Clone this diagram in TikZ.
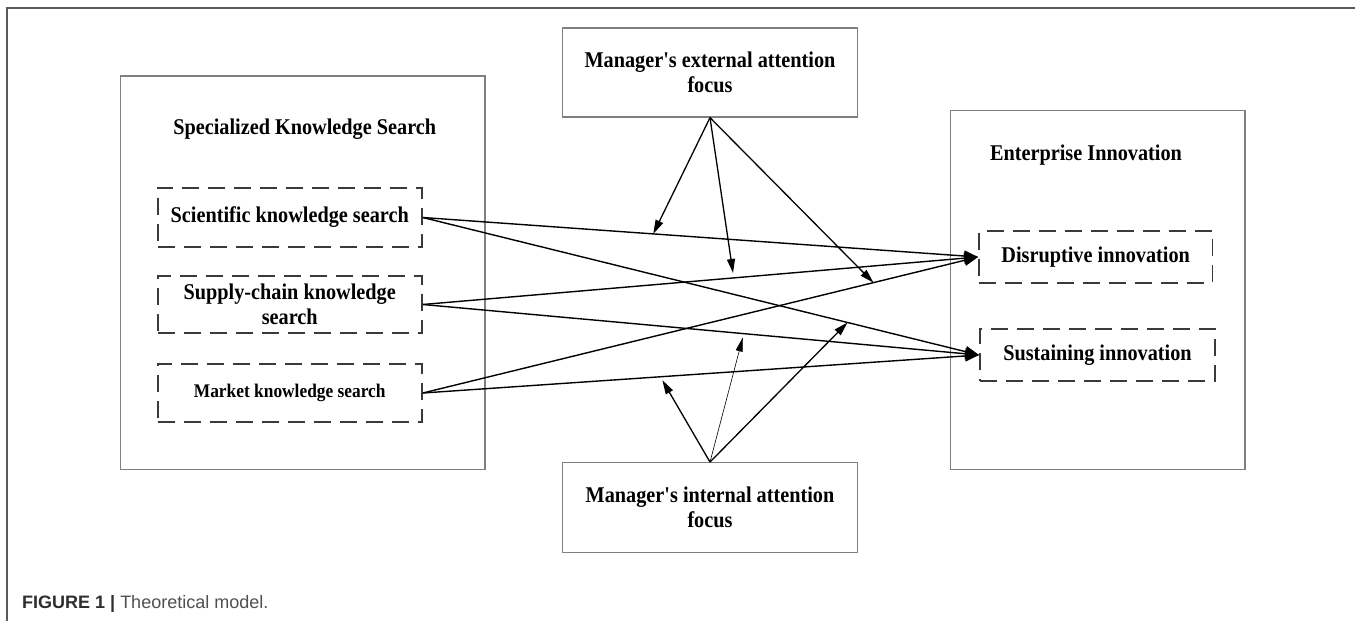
\documentclass[tikz,border=0pt]{standalone}
\usepackage{fontspec}
\setmainfont{Liberation Serif}[Ligatures=TeXOff, FakeStretch=0.9]
\newfontfamily\capfont{Liberation Sans}
\usetikzlibrary{arrows.meta,calc}
\definecolor{boxgray}{HTML}{808080}
\definecolor{dashgray}{HTML}{3A3A3A}
\definecolor{framegray}{HTML}{5A5A5A}
\definecolor{capdark}{HTML}{2E2E2E}
\definecolor{caplight}{HTML}{505050}
\tikzset{
  solidbox/.style={draw=boxgray, line width=1.3pt, rectangle, inner sep=0pt},
  dashbox/.style={draw=dashgray, line width=1.8pt, rectangle, inner sep=0pt,
    dash pattern=on 17pt off 9pt, align=center},
  lbl/.style={font=\fontsize{22.5}{25}\selectfont\bfseries, align=center, inner sep=0pt},
  mainarrow/.style={line width=1.4pt, -{Triangle[length=14pt,width=11pt]}},
  modarrow/.style={line width=1.3pt, -{Triangle[length=14pt,width=8pt]}},
  thinarrow/.style={line width=0.6pt, -{Triangle[length=14pt,width=7pt]}},
}
\begin{document}
\begin{tikzpicture}[x=1pt,y=-1pt]
\useasboundingbox (0,0) rectangle (1355,621);
\fill[white] (0,0) rectangle (1355,621);
% figure frame
\draw[framegray, line width=1.5pt] (7,621) -- (7,8) -- (1355,8);

% left group
\node[solidbox, minimum width=364.5pt, minimum height=393.5pt] (left) at (302.75,272.75) {};
\node[lbl] (lefttitle) at (304.7,129) {Specialized Knowledge Search};
\node[dashbox, lbl, minimum width=264.3pt, minimum height=59pt] (sci) at (289.75,217.5) {Scientific knowledge search};
\node[dashbox, lbl, minimum width=264.3pt, minimum height=57pt] (sup) at (289.75,304.5) {Supply-chain knowledge\\search};
\node[dashbox, lbl, font=\fontsize{19.3}{22}\selectfont\bfseries, minimum width=264.3pt, minimum height=58pt] (mkt) at (289.75,393) {Market knowledge search};

% right group
\node[solidbox, minimum width=294.5pt, minimum height=358.6pt] (right) at (1097.75,290) {};
\node[lbl] (righttitle) at (1086,155) {Enterprise Innovation};
\node[dashbox, lbl, minimum width=233.4pt, minimum height=51.7pt] (dis) at (1095.7,257) {Disruptive innovation};
\node[dashbox, lbl, minimum width=235pt, minimum height=52pt] (sus) at (1097.5,355) {Sustaining innovation};

% moderators
\node[solidbox, lbl, minimum width=295pt, minimum height=89pt] (ext) at (710,72.5) {Manager's external attention\\focus};
\node[solidbox, lbl, minimum width=295pt, minimum height=89.6pt] (int) at (710,507.5) {Manager's internal attention\\focus};

% main paths
\draw[mainarrow] (sci.east) -- (dis.west);
\draw[mainarrow] (sci.east) -- (sus.west);
\draw[mainarrow] (sup.east) -- (dis.west);
\draw[mainarrow] (sup.east) -- (sus.west);
\draw[mainarrow] (mkt.east) -- (dis.west);
\draw[mainarrow] (mkt.east) -- (sus.west);

% points on paths
\coordinate (e1) at ($(sci.east)!0.415!(dis.west)$);
\coordinate (e2) at ($(sup.east)!0.56!(dis.west)$);
\coordinate (e3) at ($(mkt.east)!0.8115!(dis.west)$);
\coordinate (i1) at ($(mkt.east)!0.427!(sus.west)$);
\coordinate (i2) at ($(sup.east)!0.577!(sus.west)$);
\coordinate (i3) at ($(sci.east)!0.7635!(sus.west)$);

% moderating arrows
\draw[modarrow] (ext.south) -- (e1);
\draw[modarrow, shorten >=5pt] (ext.south) -- (e2);
\draw[modarrow] (ext.south) -- (e3);
\draw[modarrow, shorten >=4pt] (int.north) -- (i1);
\draw[thinarrow, shorten >=4pt] (int.north) -- (i2);
\draw[modarrow] (int.north) -- (i3);

% caption
\node[anchor=base west, inner sep=0pt, font=\capfont\fontsize{18}{22}\selectfont] (cap) at (22,608)
  {\textcolor{capdark}{\bfseries FIGURE 1 |} \textcolor{caplight}{Theoretical model.}};
\end{tikzpicture}
\end{document}
